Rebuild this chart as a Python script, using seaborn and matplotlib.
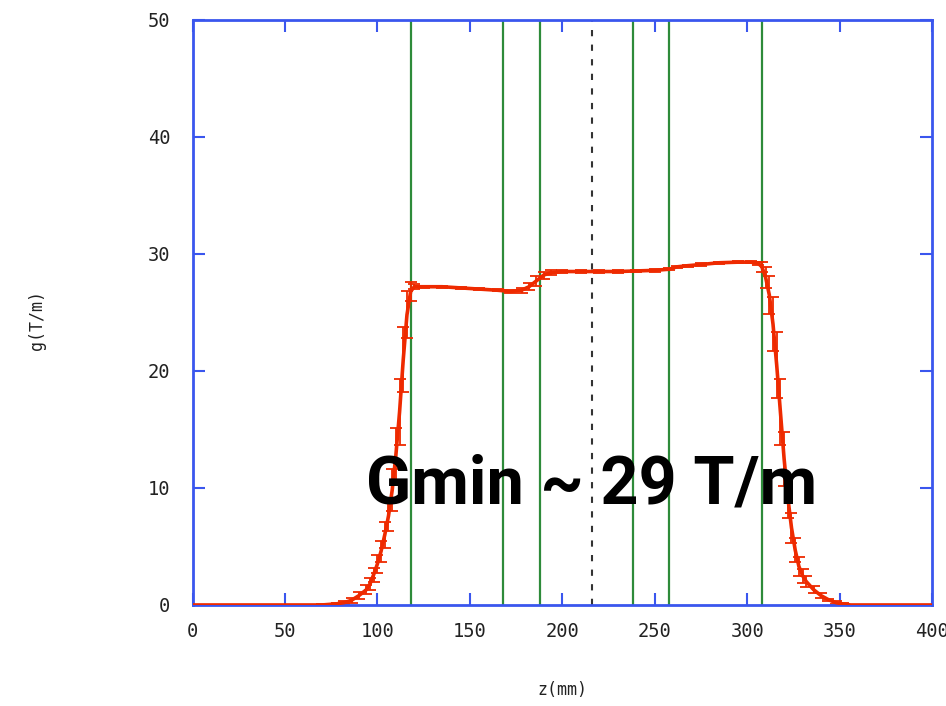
import numpy as np
import pandas as pd
import matplotlib
matplotlib.use("Agg")
import matplotlib.pyplot as plt
import seaborn as sns

# field gradient profile along z (mm) -> g (T/m), with error bars
z_mm = [0, 4, 8, 12, 16, 20, 24, 28, 32, 36, 40, 44, 48, 52, 56, 60, 64, 68,
        70, 74, 78, 82, 86, 90, 94, 96, 98, 100, 102, 104, 106, 108, 110, 112,
        114, 116, 118, 120, 125, 135, 145, 155, 165, 172, 178, 182, 186, 190,
        194, 200, 210, 220, 230, 240, 250, 258, 262, 268, 275, 285, 295, 302,
        306, 308, 310, 312, 314, 316, 318, 320, 322, 324, 326, 328, 330, 332,
        336, 340, 344, 348, 352, 356, 360, 364, 368, 372, 376, 380, 384, 388,
        392, 396, 400]
g_tm = [0, 0, 0, 0, 0, 0, 0, 0, 0, 0, 0, 0, 0, 0, 0, 0, 0, 0,
        0.0, 0.05, 0.1, 0.2, 0.4, 0.8, 1.3, 1.8, 2.6, 3.5, 4.6, 6.0, 7.6, 9.8,
        12.8, 16.5, 21.0, 24.8, 26.8, 27.2, 27.2, 27.2, 27.1, 27.0, 26.9, 26.8,
        26.9, 27.2, 27.7, 28.2, 28.4, 28.5, 28.5, 28.5, 28.5, 28.55, 28.6,
        28.7, 28.9, 29.0, 29.1, 29.25, 29.3, 29.3, 29.2, 28.9, 28.0, 26.5,
        24.0, 20.5, 16.5, 12.5, 9.2, 6.6, 4.7, 3.3, 2.5, 2.0, 1.3, 0.8, 0.45,
        0.2, 0.08, 0.0, 0, 0, 0, 0, 0, 0, 0, 0, 0, 0, 0]
g_err = [0, 0, 0, 0, 0, 0, 0, 0, 0, 0, 0, 0, 0, 0, 0, 0, 0, 0,
         0.05, 0.05, 0.05, 0.1, 0.2, 0.3, 0.4, 0.5, 0.6, 0.8, 0.9, 1.1, 1.3,
         1.8, 2.3, 2.8, 2.8, 2.0, 0.8, 0.2, 0.1, 0.1, 0.1, 0.1, 0.1, 0.1, 0.2,
         0.3, 0.4, 0.3, 0.2, 0.1, 0.1, 0.1, 0.1, 0.1, 0.1, 0.1, 0.1, 0.1, 0.1,
         0.1, 0.1, 0.1, 0.1, 0.4, 0.9, 1.6, 2.3, 2.8, 2.8, 2.3, 1.8, 1.3, 1.0,
         0.8, 0.6, 0.5, 0.3, 0.2, 0.1, 0.1, 0.05, 0.0, 0, 0, 0, 0, 0, 0, 0, 0,
         0, 0, 0]

# iron block edges (green) and magnet centre (dashed)
edge_z = [118, 168, 188, 238, 258, 308]
center_z = 216

x_ticks = [0, 50, 100, 150, 200, 250, 300, 350, 400]
y_ticks = [0, 10, 20, 30, 40, 50]

df = pd.DataFrame({"z": z_mm, "g": g_tm, "err": g_err})

sns.set_style("white")
red = "#ee2a00"
blue = "#3a56ee"

fig = plt.figure(figsize=(9.46, 7.06), dpi=100)
ax = fig.add_axes([0.2035, 0.1431, 0.7817, 0.8286])

for z in edge_z:
    ax.axvline(z, color="#2e8b3a", lw=1.6, zorder=1)
ax.axvline(center_z, color="#333333", lw=1.5, dashes=(3, 4), zorder=1)

ax.errorbar(df["z"], df["g"], yerr=df["err"], fmt="none", ecolor=red,
            elinewidth=1.3, capsize=4.5, capthick=1.3, zorder=2)
sns.lineplot(data=df, x="z", y="g", color=red, lw=2.6, ax=ax, zorder=3)

ax.text(center_z, 8.7, "Gmin ~ 29 T/m", ha="center", va="baseline",
        fontsize=48, fontweight="bold", family="Roboto", color="black",
        zorder=5)

ax.set_xlim(0, 400)
ax.set_ylim(0, 50)
ax.set_xticks(x_ticks)
ax.set_yticks(y_ticks)
ax.tick_params(axis="both", direction="in", length=8.6, width=1.5,
               color=blue, top=True, right=True, bottom=True, left=True,
               labelsize=13.5, labelcolor="#222222")
ax.tick_params(axis="x", pad=12)
ax.tick_params(axis="y", pad=16)
for lab in ax.get_xticklabels() + ax.get_yticklabels():
    lab.set_family("DejaVu Sans Mono")
for sp in ax.spines.values():
    sp.set_color(blue)
    sp.set_linewidth(2)
    sp.set_visible(True)

ax.set_xlabel("")
ax.set_ylabel("")
fig.text(562 / 946, 1 - 690 / 706, "z(mm)", ha="center", va="center",
         fontsize=12, family="DejaVu Sans Mono", color="#222222")
fig.text(37 / 946, 1 - 320 / 706, "g(T/m)", ha="center", va="center",
         rotation=90, fontsize=12, family="DejaVu Sans Mono", color="#222222")

fig.savefig("out.png", dpi=100)
